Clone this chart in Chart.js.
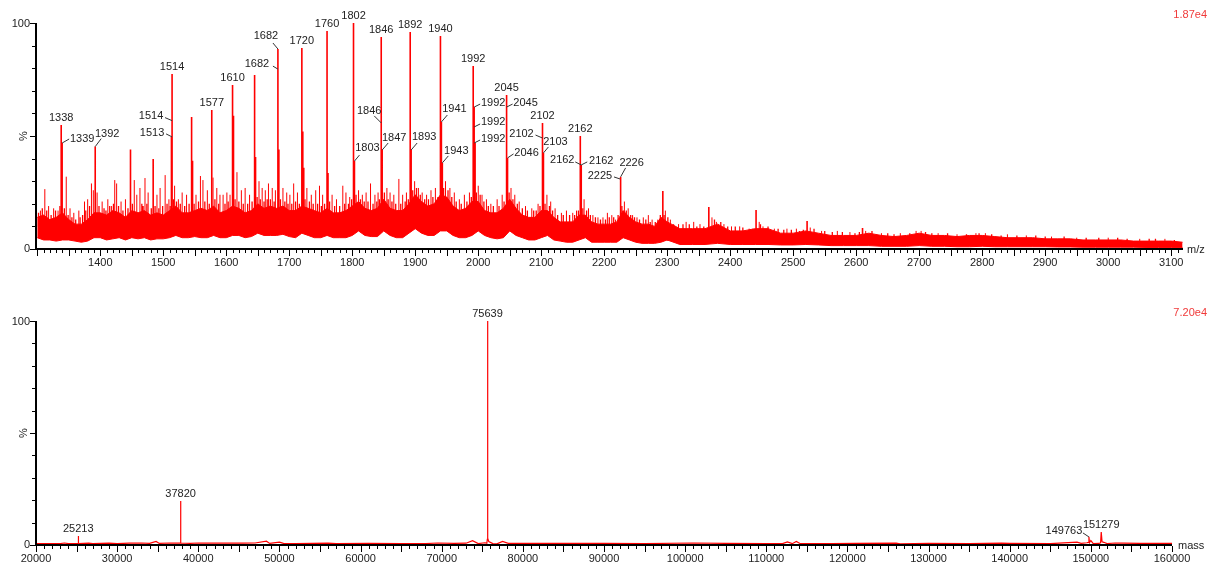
<!DOCTYPE html>
<html><head><meta charset="utf-8">
<script src="https://cdn.jsdelivr.net/npm/chart.js@4.4.0/dist/chart.umd.min.js"></script>
<style>
html,body{margin:0;padding:0;background:#fff;width:1208px;height:564px;overflow:hidden}
#c1{position:absolute;left:0;top:0}
#c2{position:absolute;left:0;top:280px}
</style></head><body>
<canvas id="c1" width="1208" height="280"></canvas>
<canvas id="c2" width="1208" height="284"></canvas>
<script>
// ---------- TOP SPECTRUM (m/z) ----------
const topTickLabels = [1400,1500,1600,1700,1800,1900,2000,2100,2200,2300,2400,2500,2600,2700,2800,2900,3000,3100];
// noise band envelope (m/z, % upper, % lower)
const envMz = [1300,1310,1320,1330,1340,1350,1360,1370,1380,1390,1400,1410,1420,1430,1440,1450,1460,1470,1480,1490,
1500,1510,1520,1530,1540,1550,1560,1570,1580,1590,1600,1610,1620,1630,1640,1650,1660,1670,1680,1690,
1700,1710,1720,1730,1740,1750,1760,1770,1780,1790,1800,1810,1820,1830,1840,1850,1860,1870,1880,1890,
1900,1910,1920,1930,1940,1950,1960,1970,1980,1990,2000,2010,2020,2030,2040,2050,2060,2070,2080,2090,
2100,2110,2120,2130,2140,2150,2160,2170,2180,2190,2200,2210,2220,2230,2240,2250,2260,2270,2280,2290,
2300,2320,2340,2360,2380,2400,2420,2440,2460,2480,2500,2520,2540,2560,2580,2600,2620,2640,2660,2680,
2700,2720,2740,2760,2780,2800,2820,2840,2860,2880,2900,2920,2940,2960,2980,3000,3020,3040,3060,3080,3100,3118];
const envHigh = [14,15,13,14,16,13,11,11,13,16,16,15,17,16,14,17,16,17,15,16,
15,17,19,16,16,17,18,17,19,16,17,19,18,16,17,20,18,19,18,19,
17,17,19,18,17,16,18,16,16,17,19,21,18,17,18,22,18,17,17,20,
24,21,19,20,24,23,19,17,18,21,21,17,16,16,18,22,18,15,14,14,
17,17,14,12,12,12,15,15,12,11,11,11,12,17,14,12,11,11,10,14,
12,9,9,9,11,8,8,9,9,7,7,8,7,6,6,6,7,6,5.5,6,
7,6,6,5.5,6,6,5.5,5,5,5,4.5,4.5,4.5,4,4,4,4,3.5,3.5,3.5,3.5,3];
const envLow = [5,4,4,3.5,4,4,3.5,3,3.5,5,5,4,4.5,5,4,5,4.5,5,4,4.5,
4.5,5,6,5,5,5.5,5,5,6,5,5,6,6,5,5.5,7,6,6,6,6.5,
5.5,5,7,6,5,5,6,5,5,5,6,8,6,5.5,5.5,8,6,5,5,7,
9,7,6,6,8,8,6,5,5,6,8,6,5,4.5,5,8,6,5,4,4,
5,6,4,3.5,3,3,4,5,3,3,3,3,3,5,4,3,2.5,2.5,2.5,3,
4,2,2,2,2.5,2,2,2,2,1.8,1.8,2,1.8,1.5,1.5,1.5,1.5,1.2,1.2,1.2,
1.5,1.2,1.2,1,1,1.2,1,1,1,1,1,0.9,0.9,0.8,0.8,0.8,0.8,0.8,0.7,0.7,0.7,0.7];
// main peaks and shoulders
const peakMz  = [1338,1339.5,1392,1448,1484,1513,1514,1545,1546.5,1577,1610,1611.5,1645,1646.5,1682,1683.5,1720,1721.5,1723,
1760,1761.5,1802,1803.5,1846,1847.5,1892,1893.5,1940,1941.5,1943,1992,1993.5,1995,2045,2046.5,2102,2103.5,2162,2163.5,2226,2293,2366,2441,2522,2610];
const peakInt = [54.9,46.9,45.3,44,39.8,49.6,77.4,58.4,39,61.5,72.6,59,77,40.7,88.5,44,88.9,52,36,
96.5,33.6,100,38.9,93.8,43.8,96,43.8,94.2,56.2,38.1,81,62.8,46.9,68.1,40.3,55.8,42.5,50,37.2,31.9,25.7,18.6,17.3,12.4,9.3];
// smaller noise spikes
const noiseMz = [1305,1312,1318,1326,1333,1346,1352,1358,1366,1375,1380,1386,1389,1395,1403,1412,1418,1423,1426,1433,1440,1454,1458,1463,1471,1476,1490,1495,1503,1509,
1518,1524,1530,1537,1552,1559,1563,1570,1579,1585,1590,1595,1601,1606,1617,1624,1630,1637,1652,1657,1662,1667,1673,1678,1690,1696,1701,1707,1713,1728,
1735,1742,1748,1753,1768,1775,1785,1790,1796,1810,1816,1822,1829,1836,1841,1855,1860,1866,1874,1880,1886,1899,1905,1911,1918,1925,1932,1948,1955,1962,
1970,1978,1986,2000,2006,2013,2020,2030,2038,2052,2058,2065,2075,2085,2095,2109,2115,2122,2132,2140,2150,2156,2168,2175,2182,2190,2198,2205,2212,2218,
2232,2238,2245,2252,2262,2270,2276,2285,2297,2305,2318,2330,2342,2352,2371,2378,2390,2402,2415,2430,2446,2452,2470,2490,2505,2527,2545,2570,2590,2615,
2640,2670,2695,2703,2730,2760,2790,2805,2840,2870,2910,2950,3000,3050,3090];
const noiseInt = [17,26.5,19,18,17,32,18,16,17,21,22,29,26,25,21,22,19,30.5,29,21,22,30.5,24,27,31.4,25,24,27,32.7,22,
28,22,25,24,24,32.3,30.5,26,31.6,27,24,24,25,24,34,26,27,24,30,27,26,29,27,26,27,25,24,29,25,27,
24,26,28,24,24,22,28,25,23,26,24,25,29,24,25,27,25,24,31,24,25,30,27,25,24,26,27,30,27,25,
22,24,25,28,24,22,20,22,24,27,24,21,19,18,20,24,21,18,16,17,16,17,22,18,15,14,14,16,15,13,
21,18,15,14,14,15,13,13,17,13,11,12,12,11,14,12,11,10,10,9,12,10,9,9,9,9.5,8,8,7.5,8,
7,7,8,8,7,6.5,7,7,6.5,6,5.5,5,5,4.5,4.5];
// fine texture spikes along the top of the noise band
const fineMz = [1302,1308,1315,1322,1329,1336,1343,1349,1355,1361,1368,1372,1377,1383,1398,1406,1409,1415,1421,1429,1436,1444,1451,1466,1468,1474,1481,1487,1493,1499,
1506,1511,1516,1521,1527,1534,1541,1549,1556,1566,1573,1582,1588,1598,1603,1614,1620,1627,1634,1641,1649,1654,1660,1665,1670,1676,1686,1693,1698,1704,
1710,1716,1725,1732,1738,1745,1751,1756,1764,1772,1780,1788,1794,1799,1806,1813,1819,1825,1833,1839,1843,1851,1857,1863,1869,1877,1884,1889,1896,1902,
1908,1915,1921,1928,1936,1945,1952,1958,1965,1973,1982,1989,1997,2003,2009,2016,2024,2033,2041,2049,2055,2062,2070,2078,2088,2092,2098,2106,2113,2118,
2126,2135,2145,2153,2159,2166,2172,2178,2186,2194,2202,2208,2215,2222,2228,2235,2242,2248,2256,2266,2273,2281,2289,2295,2301,
2310,2325,2335,2347,2358,2375,2385,2396,2408,2420,2436,2448,2460,2476,2485,2497,2510,2516,2533,2550,2562,2578,2598,2605,2625,2650,2660,2685,2710,2720,
2745,2775,2795,2815,2830,2855,2885,2900,2930,2965,2985,3015,3030,3065,3075,3105];
const fineInt = [16,18,17,15,17,19,18,15,14,13,14,15,17,19,19,18,17,19,20,19,17,18,20,20,19,20,18,19,18,19,
20,19,22,21,20,19,20,20,21,21,20,22,20,20,21,22,21,20,20,21,23,22,21,22,22,21,22,21,20,20,
21,20,22,21,20,20,19,20,21,19,19,20,20,22,24,22,21,21,20,21,22,25,22,21,20,20,21,22,26,27,
24,22,22,23,23,27,26,23,21,20,21,23,25,24,21,19,19,19,21,25,22,20,18,17,17,17,19,20,19,17,
15,15,15,15,17,18,17,15,14,13,13,14,14,15,19,17,15,14,13,13,12,12,15,15,14,
11,11,11,10,10,13,12,10,10,9.5,9,11,10,9,8.5,8.5,8,8.5,9,8,7.5,7.5,7,7.5,8,7,6.5,7,7.5,7,
7,6.5,7,6.5,6,6,6,5.5,5.5,5,5,5,4.5,4.5,4.5,4];
// peak annotations
const topLabelText = ['1338','1339','1392','1514','1514','1513','1577','1610','1682','1682','1720','1760','1802','1846','1846','1803','1847','1892','1893',
'1940','1941','1943','1992','1992','1992','1992','2045','2045','2046','2102','2102','2103','2162','2162','2162','2225','2226'];
const topLabelMz  = [1338,1339.5,1392,1514,1514,1514,1577,1610,1682,1682,1720,1760,1802,1846,1846,1803.5,1847.5,1892,1893.5,
1940,1941.5,1943,1992,1993.5,1993.5,1993.5,2045,2045,2046.5,2102,2102,2103.5,2162,2163.5,2163.5,2225,2226];
const topLabelInt = [54.9,46.9,45.3,77.4,56.8,49.6,61.5,72.6,88.5,79.6,88.9,96.5,100,93.8,55.8,38.9,43.8,96,43.8,
94.2,56.2,38.1,81,62.8,54,46.9,68.1,62.8,40.3,55.8,49.1,42.5,50,37.2,37.2,31,31.9];
// ---------- BOTTOM SPECTRUM (mass) ----------
const botTickLabels = [20000,30000,40000,50000,60000,70000,80000,90000,100000,110000,120000,130000,140000,150000,160000];
const botMass = [20000,23000,23500,24000,25180,25213,25250,26500,27000,29000,30000,31500,33000,34000,34800,35200,36500,37790,37820,37850,
39000,40000,42000,44000,45500,47000,48400,48800,50000,50500,52000,56000,57000,61000,65000,68000,69500,71500,73000,73800,
74500,75300,75560,75620,75639,75660,75700,75800,76300,76800,77500,78200,80000,85000,90000,95000,101000,105000,110000,112000,
112600,113200,113700,114200,118000,121000,126000,126500,130000,135000,139000,140000,145000,148300,148800,149500,149700,149763,149830,150000,150300,151000,
151200,151279,151380,151600,152000,153000,154000,156000,160000];
const botInt = [0.6,0.6,0.9,0.6,0.6,4.0,0.6,0.8,0.6,0.8,0.6,0.8,0.9,0.7,1.6,0.7,0.9,0.8,19.6,0.9,
0.7,0.9,0.8,0.9,0.8,0.9,1.7,0.7,1.3,0.7,0.6,0.8,0.6,0.7,0.6,0.6,0.9,0.7,0.8,1.9,
0.6,1.0,0.8,2.5,100,29,3,1.5,0.6,0.5,1.6,0.7,0.7,0.7,0.7,0.6,0.9,0.7,0.6,0.6,
1.4,0.6,1.6,0.6,0.6,0.7,0.8,0.5,0.7,0.6,0.8,0.7,0.6,1.3,0.7,1.0,1.2,3.7,1.0,2.0,0.6,0.7,
1.0,5.8,1.4,1.2,0.6,0.9,0.8,0.7,0.7];
const botLabelText = ['25213','37820','75639','149763','151279'];
const botLabelMass = [25213,37820,75639,149763,151279];
const botLabelInt  = [4.0,19.6,100,3.6,5.8];

// ---------- layout (pixels), kept apart from the data ----------
// [leaderDx, leaderDy, textDx, textDy] relative to the annotated point; null = centred above
const topLabelLayout = [null,[7,-4,20,-4],[6,-8,12,-13],null,[-7,-3,-21,-5],[-6,-3,-20,-4],null,null,[-5,-6,-12,-13],[-5,-3,-21,-5],null,null,null,null,
[-7,-7,-12,-12],[5,-6,13,-13],[6,-7,12,-12],null,[6,-7,13,-13],
null,[6,-7,13,-13],[6,-7,14,-12],null,[6,-3,19,-4],[6,-3,19,-5],[6,-3,19,-4],null,[6,-3,19,-4],[6,-4,19,-5],null,[-7,-3,-21,-4],[5,-6,12,-11],
null,[-6,-3,-19,-5],[6,-3,20,-4],[-6,-2,-20,-3],[5,-9,11,-14]];
const botLabelLayout = [null,null,null,[-6,-4,-25,-6],null];

const FONT = '11px "Liberation Sans", Arial, sans-serif';
const RED = '#ff0000';

function stickData(mzs, ints){
  const out = [];
  for (let i=0;i<mzs.length;i++){
    const m = mzs[i];
    const base = m < 2230 ? 10 : (m < 2300 ? 7 : (m < 2620 ? 3.5 : 2));
    out.push({x:m,y:base},{x:m,y:ints[i]},{x:m,y:null});
  }
  return out;
}
const pts = (xs, ys) => xs.map((x,i)=>({x, y:ys[i]}));

function decoPlugin(cfg){
  return {id:'deco'+cfg.id, afterDatasetsDraw(chart){
    const ctx = chart.ctx, xs = chart.scales.x, ys = chart.scales.y, a = chart.chartArea;
    const y0 = Math.round(ys.getPixelForValue(0));
    ctx.save();
    ctx.fillStyle = '#000';
    ctx.fillRect(a.left-1, Math.round(a.top), 2, y0 - Math.round(a.top) + 1);
    ctx.fillRect(a.left-1, y0-1, a.right - a.left + 1, 2);
    ctx.strokeStyle = '#000'; ctx.lineWidth = 1;
    ctx.beginPath();
    const start = Math.ceil(xs.min / cfg.minor) * cfg.minor;
    for (let v = start; v <= xs.max + 1e-6; v += cfg.minor){
      const px = Math.round(xs.getPixelForValue(v)) + 0.5;
      const len = (v % cfg.mid === 0) ? 6 : 3;
      ctx.moveTo(px, y0+1); ctx.lineTo(px, y0 + 1 + len);
    }
    for (let v = 0; v <= 100; v += 10){
      const py = Math.round(ys.getPixelForValue(v)) + 0.5;
      const len = (v % 50 === 0) ? 5 : 3;
      ctx.moveTo(a.left-1, py); ctx.lineTo(a.left-1-len, py);
    }
    ctx.stroke();
    ctx.font = FONT; ctx.fillStyle = '#222'; ctx.textBaseline = 'middle';
    ctx.textAlign = 'center';
    cfg.ticks.forEach(v => ctx.fillText(String(v), xs.getPixelForValue(v), y0 + 14));
    ctx.textAlign = 'right';
    ctx.fillText('100', a.left - 6, ys.getPixelForValue(100) + 1);
    ctx.fillText('0', a.left - 6, ys.getPixelForValue(0));
    ctx.save();
    ctx.translate(a.left - 12, ys.getPixelForValue(50));
    ctx.rotate(-Math.PI/2);
    ctx.textAlign = 'center';
    ctx.fillText('%', 0, 0);
    ctx.restore();
    ctx.textAlign = 'left';
    ctx.fillText(cfg.title, a.right + cfg.titleGap, y0 + 1);
    ctx.fillStyle = '#f03a3a'; ctx.textAlign = 'right';
    ctx.fillText(cfg.intensity, 1207, a.top - 8);
    ctx.fillStyle = '#222'; ctx.strokeStyle = '#333'; ctx.lineWidth = 1;
    cfg.labels.forEach((t,i)=>{
      const px = xs.getPixelForValue(cfg.lx[i]);
      const py = ys.getPixelForValue(cfg.ly[i]);
      const L = cfg.layout[i];
      ctx.textAlign = 'center';
      if (!L){
        ctx.fillText(t, px, py - 7);
      } else {
        ctx.beginPath();
        ctx.moveTo(px, py); ctx.lineTo(px + L[0], py + L[1]);
        ctx.stroke();
        ctx.fillText(t, px + L[2], py + L[3]);
      }
    });
    ctx.restore();
  }};
}

const common = (min,max,pad) => ({
  responsive:false, animation:false, devicePixelRatio:1,
  layout:{padding:pad},
  plugins:{legend:{display:false}, tooltip:{enabled:false}},
  elements:{point:{radius:0}, line:{tension:0}},
  scales:{
    x:{type:'linear', min, max, display:false},
    y:{type:'linear', min:0, max:100, display:false}
  }
});

new Chart(document.getElementById('c1'), {
  type:'line',
  data:{datasets:[
    {data:pts(envMz, envHigh), borderColor:RED, borderWidth:1, backgroundColor:RED, fill:'+1'},
    {data:pts(envMz, envLow), borderColor:RED, borderWidth:1, fill:false},
    {data:stickData(fineMz, fineInt), borderColor:RED, borderWidth:1.3, spanGaps:false, fill:false},
    {data:stickData(noiseMz, noiseInt), borderColor:RED, borderWidth:1, spanGaps:false, fill:false},
    {data:stickData(peakMz, peakInt), borderColor:RED, borderWidth:1.6, spanGaps:false, fill:false}
  ]},
  options:common(1298, 3118.7, {left:36, right:25, top:23, bottom:31}),
  plugins:[decoPlugin({id:1, minor:10, mid:50, ticks:topTickLabels, title:'m/z', titleGap:4, intensity:'1.87e4',
    labels:topLabelText, lx:topLabelMz, ly:topLabelInt, layout:topLabelLayout})]
});

new Chart(document.getElementById('c2'), {
  type:'line',
  data:{datasets:[
    {data:pts(botMass, botInt), borderColor:RED, borderWidth:1.2, fill:false}
  ]},
  options:common(20000, 160000, {left:36, right:36, top:41, bottom:19}),
  plugins:[decoPlugin({id:2, minor:1000, mid:5000, ticks:botTickLabels, title:'mass', titleGap:6, intensity:'7.20e4',
    labels:botLabelText, lx:botLabelMass, ly:botLabelInt, layout:botLabelLayout})]
});
</script></body></html>
